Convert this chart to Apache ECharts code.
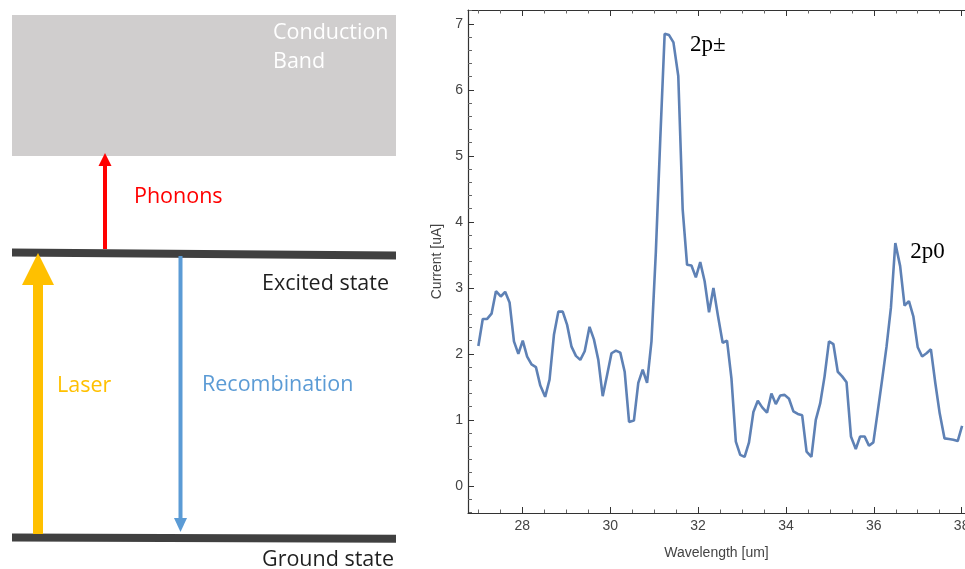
<!DOCTYPE html>
<html>
<head>
<meta charset="utf-8">
<script src="https://cdn.jsdelivr.net/npm/echarts@6.0.0/dist/echarts.min.js"></script>
<style>
  html, body { margin: 0; padding: 0; background: #fff; }
  #chart { width: 965px; height: 569px; }
</style>
</head>
<body>
<div id="chart"></div>
<script>
// wavelength samples [um]
const wavelength = [
  27.00, 27.10, 27.20, 27.30, 27.40, 27.51, 27.61, 27.71, 27.81, 27.91,
  28.01, 28.11, 28.21, 28.31, 28.41, 28.52, 28.62, 28.72, 28.82, 28.92,
  29.02, 29.12, 29.22, 29.32, 29.42, 29.53, 29.63, 29.73, 29.83, 29.93,
  30.03, 30.13, 30.23, 30.33, 30.43, 30.54, 30.64, 30.74, 30.84, 30.94,
  31.04, 31.14, 31.24, 31.34, 31.44, 31.55, 31.65, 31.75, 31.85, 31.95,
  32.05, 32.15, 32.25, 32.35, 32.45, 32.56, 32.66, 32.76, 32.86, 32.96,
  33.06, 33.16, 33.26, 33.36, 33.46, 33.57, 33.67, 33.77, 33.87, 33.97,
  34.07, 34.17, 34.27, 34.37, 34.47, 34.58, 34.68, 34.78, 34.88, 34.98,
  35.08, 35.18, 35.28, 35.38, 35.48, 35.59, 35.69, 35.79, 35.89, 35.99,
  36.09, 36.19, 36.29, 36.39, 36.49, 36.60, 36.70, 36.80, 36.90, 37.00,
  37.10, 37.20, 37.30, 37.40, 37.50, 37.61, 37.71, 37.81, 37.91, 38.01
]
// photocurrent [uA]
const current = [
  2.12, 2.53, 2.53, 2.61, 2.95, 2.87, 2.94, 2.78, 2.19, 2.00,
  2.20, 1.96, 1.84, 1.80, 1.52, 1.35, 1.61, 2.29, 2.64, 2.64,
  2.44, 2.11, 1.97, 1.91, 2.04, 2.41, 2.22, 1.91, 1.36, 1.68,
  2.01, 2.05, 2.02, 1.73, 0.97, 0.99, 1.56, 1.76, 1.56, 2.19,
  3.55, 5.25, 6.85, 6.83, 6.72, 6.21, 4.19, 3.35, 3.34, 3.16,
  3.39, 3.10, 2.63, 3.00, 2.59, 2.17, 2.20, 1.63, 0.67, 0.47,
  0.44, 0.66, 1.12, 1.29, 1.19, 1.11, 1.40, 1.24, 1.37, 1.38,
  1.32, 1.13, 1.09, 1.07, 0.52, 0.44, 1.00, 1.25, 1.66, 2.19,
  2.15, 1.73, 1.66, 1.57, 0.75, 0.56, 0.75, 0.75, 0.61, 0.66,
  1.13, 1.61, 2.11, 2.70, 3.68, 3.33, 2.73, 2.80, 2.57, 2.10,
  1.96, 2.01, 2.07, 1.56, 1.10, 0.72, 0.71, 0.70, 0.68, 0.91
]
// peak labels: [wavelength, current, text]
const peakLabels = [
  [32.22, 6.68, '2p\u00b1'],
  [37.22, 3.55, '2p0']
]
const levelLabels = ['Conduction', 'Band', 'Phonons', 'Excited state', 'Laser', 'Recombination', 'Ground state']

const axisColor = '#333'
const labelColor = '#444'
const lineColor = '#5E81B5'
const diagramFont = '"Open Sans", sans-serif'

function arrowHead(tipX, tipY, halfW, len, dir) {
  // dir: -1 points up, 1 points down
  return [[tipX - halfW, tipY - dir * len], [tipX, tipY], [tipX + halfW, tipY - dir * len]]
}

function diagram() {
  const els = []
  // conduction band
  els.push({ type: 'rect', shape: { x: 12, y: 15, width: 384, height: 141 }, style: { fill: '#D0CECE' } })
  // energy levels
  els.push({ type: 'line', shape: { x1: 12, y1: 252.5, x2: 396, y2: 255.5 }, style: { stroke: '#404040', lineWidth: 8 } })
  els.push({ type: 'line', shape: { x1: 12, y1: 537.5, x2: 396, y2: 538.7 }, style: { stroke: '#404040', lineWidth: 8 } })
  // phonons arrow
  els.push({ type: 'rect', shape: { x: 103, y: 164, width: 4, height: 85 }, style: { fill: '#FF0000' } })
  els.push({ type: 'polygon', shape: { points: arrowHead(105, 153, 6.5, 13, -1) }, style: { fill: '#FF0000' } })
  // laser arrow
  els.push({ type: 'rect', shape: { x: 33, y: 283, width: 10, height: 251 }, style: { fill: '#FFC000' } })
  els.push({ type: 'polygon', shape: { points: arrowHead(38, 253, 16, 32, -1) }, style: { fill: '#FFC000' } })
  // recombination arrow
  els.push({ type: 'rect', shape: { x: 178.5, y: 256, width: 4, height: 264 }, style: { fill: '#5B9BD5' } })
  els.push({ type: 'polygon', shape: { points: arrowHead(180.5, 532, 6.5, 14, 1) }, style: { fill: '#5B9BD5' } })

  const textPos = [[273, 33, '#ffffff'], [273, 62, '#ffffff'], [134, 197, '#FF0000'], [262, 284, '#1f1f1f'],
    [57, 386, '#FFC000'], [202, 385, '#5B9BD5'], [262, 560, '#1f1f1f']]
  levelLabels.forEach((t, i) => {
    els.push({
      type: 'text',
      x: textPos[i][0],
      y: textPos[i][1],
      style: { text: t, fill: textPos[i][2], font: '21.5px ' + diagramFont, textVerticalAlign: 'middle' }
    })
  })
  return els
}

const chart = echarts.init(document.getElementById('chart'))

const xMin = 26.764
const xMax = 38.076

const option = {
  animation: false,
  grid: { left: 468, top: 10, bottom: 56, right: 0, show: false, outerBoundsMode: 'none' },
  xAxis: [
    {
      type: 'value',
      min: xMin,
      max: xMax,
      splitNumber: 5,
      name: 'Wavelength [um]',
      nameLocation: 'middle',
      nameGap: 33,
      nameTextStyle: { color: labelColor, fontSize: 14, fontFamily: 'Liberation Sans' },
      axisLine: { onZero: false, lineStyle: { color: axisColor, width: 1.2 } },
      axisTick: { inside: true, length: 6, lineStyle: { color: axisColor } },
      minorTick: { show: true, splitNumber: 4, length: 3.5, lineStyle: { color: '#666' } },
      splitLine: { show: false },
      axisLabel: { color: labelColor, fontSize: 14, fontFamily: 'Liberation Sans', margin: 6, showMinLabel: false, showMaxLabel: false }
    },
    {
      type: 'value',
      position: 'top',
      min: xMin,
      max: xMax,
      splitNumber: 5,
      axisLine: { onZero: false, lineStyle: { color: axisColor, width: 1.2 } },
      axisTick: { inside: true, length: 6, lineStyle: { color: axisColor } },
      minorTick: { show: true, splitNumber: 4, length: 3.5, lineStyle: { color: '#666' } },
      splitLine: { show: false },
      axisLabel: { show: false }
    }
  ],
  yAxis: {
    type: 'value',
    min: -0.41,
    max: 7.21,
    splitNumber: 7,
    name: 'Current [uA]',
    nameLocation: 'middle',
    nameGap: 24,
    nameTextStyle: { color: labelColor, fontSize: 14, fontFamily: 'Liberation Sans' },
    axisLine: { onZero: false, lineStyle: { color: axisColor, width: 1.2 } },
    axisTick: { inside: true, length: 6, lineStyle: { color: axisColor } },
    minorTick: { show: true, splitNumber: 5, length: 4, lineStyle: { color: '#666' } },
    splitLine: { show: false },
    axisLabel: { color: labelColor, fontSize: 14, fontFamily: 'Liberation Sans', margin: 5, showMinLabel: false, showMaxLabel: false }
  },
  series: [
    {
      type: 'line',
      data: wavelength.map((w, i) => [w, current[i]]),
      showSymbol: false,
      lineStyle: { color: lineColor, width: 2.6 },
      markPoint: {
        symbol: 'circle',
        symbolSize: 0,
        data: peakLabels.map(p => ({
          coord: [p[0], p[1]],
          label: {
            show: true,
            position: 'inside',
            formatter: p[2],
            color: '#000',
            fontSize: 23,
            fontFamily: 'Liberation Serif'
          }
        }))
      }
    }
  ],
  graphic: diagram()
}

chart.setOption(option)
</script>
</body>
</html>
